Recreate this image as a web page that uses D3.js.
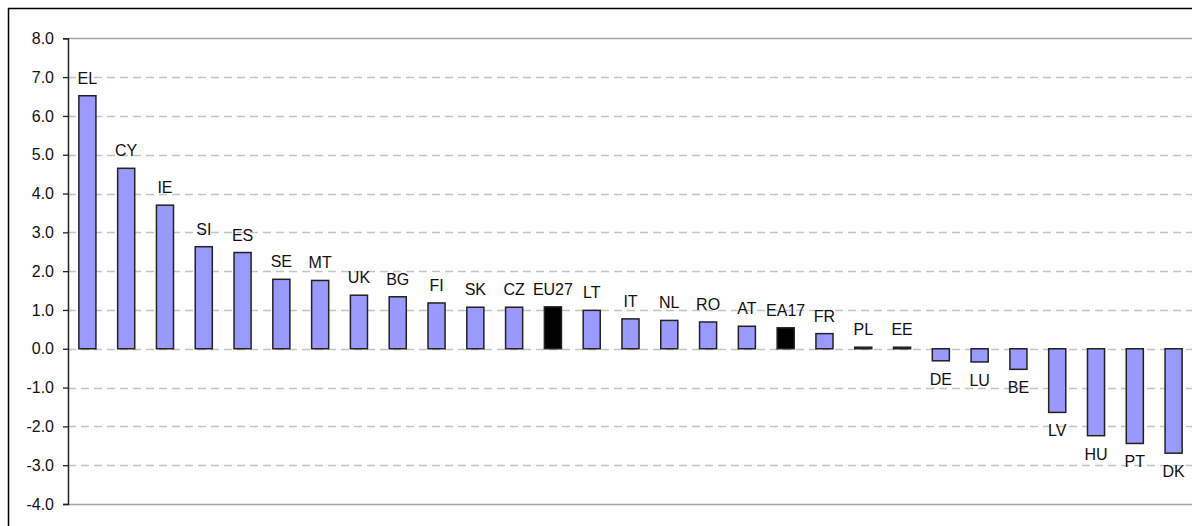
<!DOCTYPE html>
<html>
<head>
<meta charset="utf-8">
<script src="https://cdn.jsdelivr.net/npm/d3@7"></script>
<style>
  html, body { margin: 0; padding: 0; background: #fff; }
  svg { display: block; }
</style>
</head>
<body>
<svg id="chart" width="1192" height="526"></svg>
<script>
const categories = ["EL","CY","IE","SI","ES","SE","MT","UK","BG","FI","SK","CZ","EU27","LT","IT","NL","RO","AT","EA17","FR","PL","EE","DE","LU","BE","LV","HU","PT","DK"];
const values = [6.52, 4.65, 3.70, 2.63, 2.48, 1.79, 1.76, 1.38, 1.34, 1.18, 1.07, 1.07, 1.08, 0.99, 0.77, 0.73, 0.69, 0.58, 0.54, 0.39, 0.04, 0.04, -0.31, -0.34, -0.53, -1.64, -2.24, -2.44, -2.69];
const aggregates = ["EU27", "EA17"];
const yTicks = [-4, -3, -2, -1, 0, 1, 2, 3, 4, 5, 6, 7, 8];

(function () {
const svg = d3.select("#chart");
const pLeft = 68, pRight = 1193, pTop = 38.3, pBottom = 504;

// outer border (extends beyond the visible area on the right/bottom)
svg.append("rect")
  .attr("x", 8.5).attr("y", 8.5)
  .attr("width", 1300).attr("height", 700)
  .attr("fill", "none").attr("stroke", "#000").attr("stroke-width", 1.5);

const x = d3.scaleBand().domain(categories).range([pLeft, pRight])
  .paddingInner(0.56).paddingOuter(0.28);
const y = d3.scaleLinear().domain([-4, 8]).range([pBottom, pTop]);

// gridlines
svg.append("g").selectAll("line").data(yTicks).join("line")
  .attr("x1", pLeft).attr("x2", 1192)
  .attr("y1", d => Math.round(y(d)) + 0.5).attr("y2", d => Math.round(y(d)) + 0.5)
  .attr("stroke", d => (d === 8 || d === -4) ? "#a6a6a6" : "#c4c4c4")
  .attr("stroke-width", d => (d === 8 || d === -4) ? 1.5 : 1.3)
  .attr("stroke-dasharray", d => (d === 8 || d === -4) ? null : "8,5");

// y axis
const yAxis = d3.axisLeft(y).tickValues(yTicks).tickSize(5).tickPadding(9)
  .tickFormat(d => d.toFixed(1));
const ga = svg.append("g").attr("transform", `translate(${pLeft},0)`).call(yAxis);
ga.select(".domain").attr("stroke", "#222").attr("stroke-width", 1.5);
ga.selectAll(".tick line").attr("stroke", "#222").attr("stroke-width", 1.3);
ga.selectAll(".tick text")
  .attr("font-family", "Liberation Sans, Arial, sans-serif")
  .attr("font-size", 16).attr("fill", "#111");

// bars
svg.append("g").selectAll("rect").data(categories).join("rect")
  .attr("x", d => x(d))
  .attr("width", x.bandwidth())
  .attr("y", (d, i) => y(Math.max(0, values[i])))
  .attr("height", (d, i) => Math.abs(y(values[i]) - y(0)))
  .attr("fill", d => aggregates.includes(d) ? "#000" : "#9999ff")
  .attr("stroke", "#222")
  .attr("stroke-width", 1.5);

// data labels
svg.append("g").selectAll("text").data(categories).join("text")
  .attr("x", d => x(d) + x.bandwidth() / 2)
  .attr("y", (d, i) => values[i] >= 0 ? y(values[i]) - 12 : y(values[i]) + 24)
  .attr("text-anchor", "middle")
  .attr("font-family", "Liberation Sans, Arial, sans-serif")
  .attr("font-size", 16).attr("fill", "#111")
  .text(d => d);
})();
</script>
</body>
</html>
